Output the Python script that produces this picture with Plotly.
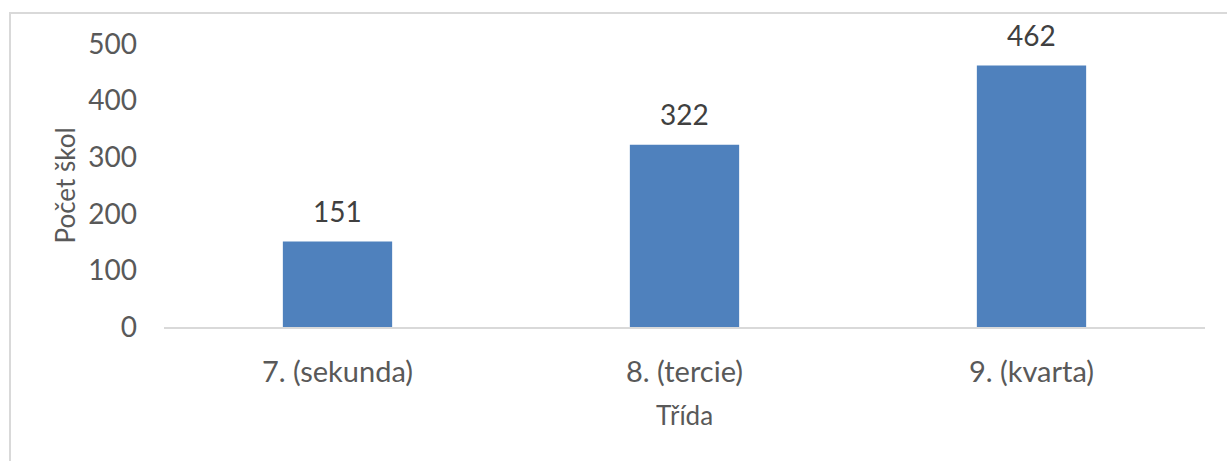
import plotly.graph_objects as go

# Počet škol podle třídy
categories = ["7. (sekunda)", "8. (tercie)", "9. (kvarta)"]
school_counts = [151, 322, 462]
y_tick_values = [0, 100, 200, 300, 400, 500]

W, H = 1227, 461
L, R, T, B = 164, 22, 44, 134
plot_w = W - L - R
plot_h = H - T - B

def px_x(px):
    return (px - L) / plot_w

def px_y(py):
    return (H - B - py) / plot_h

font_family = "Lato, 'Open Sans', sans-serif"
border_color = "#d9d9d9"
label_color = "#595959"

fig = go.Figure(
    go.Bar(
        x=categories,
        y=school_counts,
        marker=dict(color="#4f81bd", line=dict(width=0)),
        hoverinfo="x+y",
    )
)

# value labels above each bar
for cat, val in zip(categories, school_counts):
    fig.add_annotation(
        x=cat, y=val, xref="x", yref="y",
        text=str(val), showarrow=False,
        yanchor="bottom", yshift=12,
        font=dict(size=28, color="#404040", family=font_family),
    )

fig.update_layout(
    width=W,
    height=H,
    margin=dict(l=L, r=R, t=T, b=B, autoexpand=False),
    paper_bgcolor="white",
    plot_bgcolor="white",
    bargap=0.685,
    showlegend=False,
    font=dict(family=font_family, color=label_color, size=28),
    xaxis=dict(
        showgrid=False,
        showline=True,
        linecolor=border_color,
        linewidth=2,
        ticks="",
        ticklabelstandoff=18,
        tickfont=dict(size=29, color=label_color),
        title=dict(text="Třída", font=dict(size=26, color=label_color), standoff=20),
    ),
    yaxis=dict(
        range=[0, 500],
        tickvals=y_tick_values,
        showgrid=False,
        zeroline=False,
        showline=False,
        ticks="",
        ticklabelstandoff=26,
        tickfont=dict(size=28, color=label_color),
        title=dict(text="Počet škol", font=dict(size=26, color=label_color), standoff=5),
    ),
    shapes=[
        # chart area frame (top and left edges)
        dict(type="line", xref="paper", yref="paper",
             x0=px_x(9), x1=px_x(W + 5), y0=px_y(13), y1=px_y(13),
             line=dict(color=border_color, width=2)),
        dict(type="line", xref="paper", yref="paper",
             x0=px_x(10), x1=px_x(10), y0=px_y(12), y1=px_y(H + 5),
             line=dict(color=border_color, width=2)),
    ],
)

fig.write_html("out.html")
